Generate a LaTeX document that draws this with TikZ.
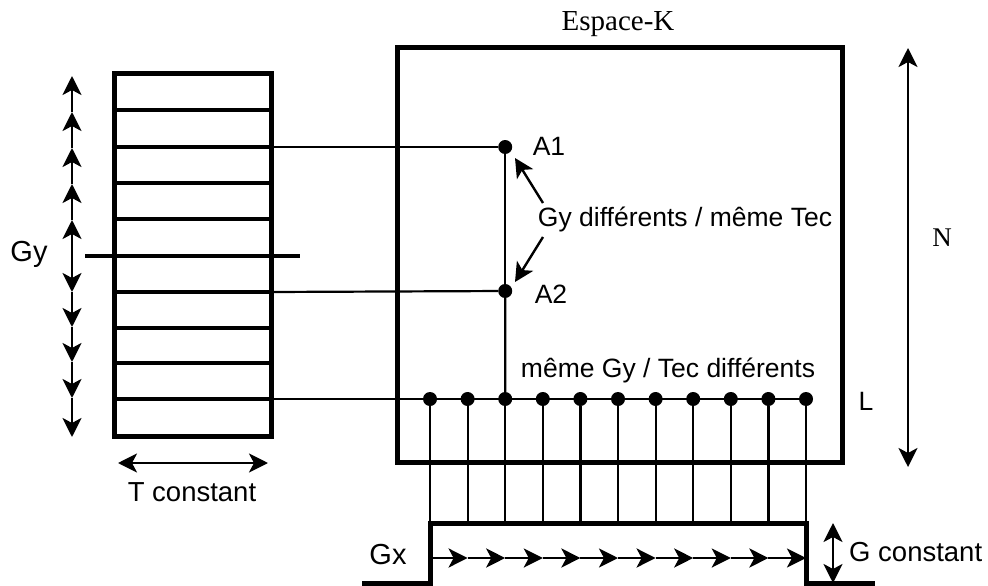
\documentclass[tikz,border=0pt]{standalone}
\usepackage{fontspec}
\setmainfont{Liberation Serif}
\setsansfont{Liberation Sans}
\usetikzlibrary{arrows.meta}
\begin{document}
\begin{tikzpicture}[x=1pt,y=-1pt,
  thickline/.style={line width=5pt},
  rung/.style={line width=4.2pt},
  wire/.style={line width=2.2pt},
  arr/.style={line width=2.8pt,-{Stealth[length=19pt,width=19pt,inset=5pt]}},
  dbl/.style={line width=2.8pt,{Stealth[length=19pt,width=19pt,inset=5pt]}-{Stealth[length=19pt,width=19pt,inset=5pt]}},
  dot/.style={circle,fill=black,inner sep=0pt,minimum size=14pt},
  lab/.style={font=\sffamily\fontsize{26.5}{30}\selectfont,inner sep=0pt},
  slab/.style={font=\rmfamily\fontsize{29}{32}\selectfont,inner sep=0pt}]
\useasboundingbox (0,0) rectangle (988,586);

% ladder (Gy phase encoding)
\draw[thickline] (114,74) rectangle (271,436);
\foreach \y in {110,147,183,219,292,328,363,399} \draw[rung] (114,\y) -- (271,\y);
\draw[rung] (85,256) -- (300,256);
\coordinate (la) at (271,147);
\coordinate (lb) at (271,292);
\coordinate (lc) at (271,399);

% Gy arrow with repeated heads
\foreach \y [count=\i] in {256,220,184,148,112,76} \coordinate (u\i) at (72,\y);
\foreach \y [count=\i] in {256,292,327,362,398,437} \coordinate (w\i) at (72,\y);
\foreach \i [evaluate=\i as \j using int(\i+1)] in {1,...,5} {
  \draw[arr] (u\i) -- (u\j);
  \draw[arr] (w\i) -- (w\j);
}
\node[lab,font=\sffamily\fontsize{29}{30}\selectfont] (gy) at (29,254) {Gy};

% T constant
\coordinate (t1) at (118,463);
\coordinate (t2) at (268,463);
\draw[dbl] (t1) -- (t2);
\node[lab,font=\sffamily\fontsize{27.5}{30}\selectfont] (tc) at (192,492) {T constant};

% k-space box
\draw[thickline] (397,48) rectangle (842,462);
\node[slab] (ek) at (618,24) {Espace-K};

% points
\node[dot] (A1) at (505.2,147) {};
\node[dot] (A2) at (505.2,291) {};
\foreach \k in {0,...,10} {
  \node[dot] (d\k) at ({430+37.6*\k},399) {};
  \coordinate (p\k) at ({430+37.6*\k},523);
}
\draw[wire] (la) -- (A1);
\draw[wire] (lb) -- (A2);
\draw[wire] (lc) -- (d10);
\draw[wire] (A1) -- (A2);
\draw[wire] (A2) -- (d2);
\foreach \k in {0,...,10} \draw[wire] (d\k) -- (p\k);

\node[lab] (a1l) at (549,146) {A1};
\node[lab] (a2l) at (551,294) {A2};
\node[lab] (gyd) at (685,219) {Gy différents / même Tec};
\node[lab] (mgy) at (668,370) {même Gy / Tec différents};
\coordinate (s1) at (543,203);
\coordinate (s2) at (543,237);
\coordinate (e1) at (515,158);
\coordinate (e2) at (515,282);
\draw[arr,line width=2.4pt] (s1) -- (e1);
\draw[arr,line width=2.4pt] (s2) -- (e2);

% L and N
\node[lab] (L) at (866,401) {L};
\coordinate (n1) at (908,48);
\coordinate (n2) at (908,467);
\draw[dbl] (n1) -- (n2);
\node[slab,font=\rmfamily\fontsize{27}{30}\selectfont] (N) at (942,238) {N};

% Gx pulse
\draw[thickline] (362,583) -- (430,583) -- (430,523) -- (806,523) -- (806,583) -- (875,583);
\foreach \k in {0,...,10} \coordinate (g\k) at ({430+37.6*\k},558);
\foreach \k [evaluate=\k as \j using int(\k-1)] in {1,...,10} \draw[arr] (g\j) -- (g\k);
\node[lab,font=\sffamily\fontsize{29}{30}\selectfont] (gx) at (388,555) {Gx};

% G constant
\coordinate (c1) at (833,523);
\coordinate (c2) at (833,583);
\draw[dbl] (c1) -- (c2);
\node[lab,font=\sffamily\fontsize{27.5}{30}\selectfont,anchor=west] (gc) at (849,552) {G constant};
\end{tikzpicture}
\end{document}
